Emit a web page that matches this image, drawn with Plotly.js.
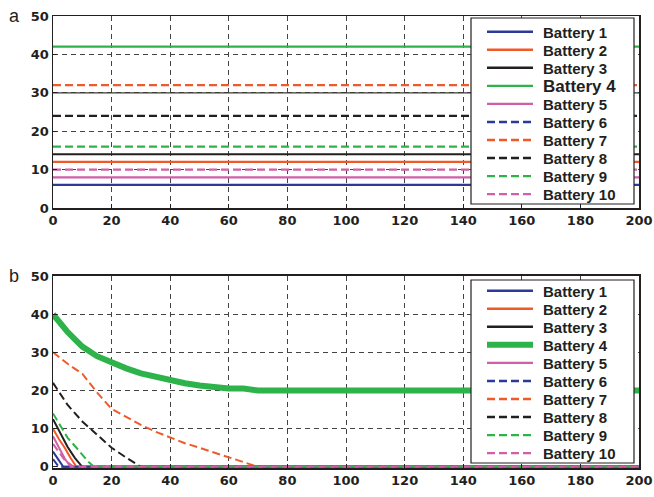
<!DOCTYPE html>
<html>
<head>
<meta charset="utf-8">
<script src="https://cdn.plot.ly/plotly-3.0.1.min.js"></script>
<style>html,body{margin:0;padding:0;background:#fff;}#chart{width:654px;height:497px;}</style>
</head>
<body>
<div id="chart"></div>
<script>
// ---------- data ----------
const batteryNames = ['Battery 1','Battery 2','Battery 3','Battery 4','Battery 5',
                      'Battery 6','Battery 7','Battery 8','Battery 9','Battery 10'];
// Panel a: constant levels over time
const timeA = [0, 200];
const levelsA = [6, 12, 14, 42, 8, 30, 32, 24, 16, 10];

// Panel b: decaying levels
const b1x = [0, 1.5, 3.5, 200];            const b1y = [4, 2.2, 0, 0];
const b2x = [0, 2, 4, 6, 8, 200];           const b2y = [10, 7.3, 5, 2.3, 0, 0];
const b3x = [0, 2.5, 5, 7.5, 10, 200];      const b3y = [12.5, 8.7, 5.2, 2.3, 0, 0];
const b4x = [0, 3, 5, 8, 10, 15, 20, 25, 30, 35, 40, 45, 50, 55, 60, 65, 67, 70, 200];
const b4y = [40, 37, 35.3, 33, 31.5, 29, 27.2, 25.8, 24.5, 23.5, 22.6, 21.9, 21.3, 20.8, 20.5, 20.5, 20.3, 20, 20];
const b5x = [0, 2, 4, 6, 200];              const b5y = [8, 5, 2.2, 0, 0];
const b6x = [0, 1, 2, 200];                 const b6y = [2, 1, 0, 0];
const b7x = [0, 5, 10, 15, 20, 25, 30, 35, 40, 45, 50, 55, 60, 65, 68, 70, 200];
const b7y = [30, 27, 24.4, 19.5, 15.2, 13, 11, 9.2, 7.6, 6.2, 5, 3.7, 2.4, 1.3, 0.4, 0, 0];
const b8x = [0, 5, 10, 15, 20, 25, 30, 200]; const b8y = [22, 16.2, 11.9, 8.4, 5, 2.4, 0, 0];
const b9x = [0, 3, 5, 8, 10, 12, 14, 200];  const b9y = [14, 10, 7.6, 5, 3.3, 1.4, 0, 0];
const b10x = [0, 2, 4, 7, 200];             const b10y = [6, 3.8, 1.8, 0, 0];

const seriesB = [[b1x,b1y],[b2x,b2y],[b3x,b3y],[b4x,b4y],[b5x,b5y],
                 [b6x,b6y],[b7x,b7y],[b8x,b8y],[b9x,b9y],[b10x,b10y]];

const xTicks = [0, 20, 40, 60, 80, 100, 120, 140, 160, 180, 200];
const yTicks = [0, 10, 20, 30, 40, 50];

// ---------- styles ----------
const BLUE = '#2b3a97', ORANGE = '#f05a28', BLACK = '#231f20', GREEN = '#2db34a', MAG = '#d05fa8';
const DASH = '8px,4px';
const lineColors = [BLUE, ORANGE, BLACK, GREEN, MAG, BLUE, ORANGE, BLACK, GREEN, MAG];
const lineDash = ['solid','solid','solid','solid','solid',DASH,DASH,DASH,DASH,DASH];
const widthA = [2.2, 2.2, 2.2, 2.2, 2.2, 1.2, 2.2, 2.2, 2.2, 2.2];
const widthB = [2, 2, 2, 6, 2, 2, 2, 2, 2, 2];

const traces = [];
batteryNames.forEach((nm, i) => {
  traces.push({x: timeA, y: [levelsA[i], levelsA[i]], xaxis: 'x', yaxis: 'y', mode: 'lines',
    name: nm, showlegend: false,
    line: i === 5 ? {color: '#3a3a3a', width: widthA[i]} : {color: lineColors[i], width: widthA[i], dash: lineDash[i]}});
});
batteryNames.forEach((nm, i) => {
  traces.push({x: seriesB[i][0], y: seriesB[i][1], xaxis: 'x2', yaxis: 'y2', mode: 'lines',
    name: nm, showlegend: false,
    line: {color: lineColors[i], width: widthB[i], dash: lineDash[i]}});
});

const FAM = 'DejaVu Sans, Liberation Sans, Arial, sans-serif';
const tickFont = {family: FAM, size: 13, color: '#231f20', weight: 'bold'};
function xax(anchor) {
  return {anchor: anchor, range: [0, 200], tickvals: xTicks, ticktext: xTicks.map(String),
    showgrid: true, gridcolor: '#444', griddash: '5px,4px', gridwidth: 1, zeroline: false,
    showline: true, mirror: true, linecolor: '#231f20', linewidth: 1.5,
    ticks: 'inside', ticklen: 4, tickcolor: '#231f20', tickfont: tickFont, fixedrange: true};
}
function yax(anchor, dom, lo) {
  return {anchor: anchor, domain: dom, range: [lo, 50], tickvals: yTicks, ticktext: yTicks.map(String),
    showgrid: true, gridcolor: '#444', griddash: '5px,4px', gridwidth: 1, zeroline: false,
    showline: true, mirror: true, linecolor: '#231f20', linewidth: 1.5,
    ticks: 'inside', ticklen: 4, tickcolor: '#231f20', tickfont: tickFont, fixedrange: true};
}

// ---------- legend boxes (drawn as shapes + text) ----------
const W = 654, H = 497, ML = 53, MR = 15, MT = 16, MB = 29;
const PW = W - ML - MR, PH = H - MT - MB;
const px2x = p => (p - ML) / PW;
const py2y = p => (H - MB - p) / PH;
const shapes = [], annotations = [];
function buildLegend(top, bottom, firstRow, rowGap, widths, bigIndex) {
  shapes.push({type: 'rect', xref: 'paper', yref: 'paper',
    x0: px2x(471), x1: px2x(634), y0: py2y(bottom), y1: py2y(top),
    fillcolor: '#fff', line: {color: '#231f20', width: 1.2}});
  batteryNames.forEach((nm, i) => {
    const cy = firstRow + i * rowGap;
    shapes.push({type: 'line', xref: 'paper', yref: 'paper',
      x0: px2x(487), x1: px2x(533), y0: py2y(cy), y1: py2y(cy),
      line: {color: lineColors[i], width: widths[i] === 6 ? 6 : 2.4, dash: lineDash[i]}});
    annotations.push({text: nm, xref: 'paper', yref: 'paper', x: px2x(541), y: py2y(cy + 0.5),
      xanchor: 'left', yanchor: 'middle', showarrow: false,
      font: {family: 'Liberation Sans, Arial, sans-serif', size: i === bigIndex ? 17 : 15,
             color: '#231f20', weight: 'bold'}});
  });
}
buildLegend(18, 204, 31.7, 18.05, [2,2,2,2,2,2,2,2,2,2], 3);
buildLegend(280, 463, 290.7, 18.05, widthB, -1);

annotations.push(
  {text: 'a', xref: 'paper', yref: 'paper', x: px2x(14), y: py2y(16), xanchor: 'center', yanchor: 'middle',
   showarrow: false, font: {family: 'Liberation Sans, Arial, sans-serif', size: 18, color: '#231f20'}},
  {text: 'b', xref: 'paper', yref: 'paper', x: px2x(14), y: py2y(276), xanchor: 'center', yanchor: 'middle',
   showarrow: false, font: {family: 'Liberation Sans, Arial, sans-serif', size: 18, color: '#231f20'}}
);

const layout = {
  width: W, height: H,
  margin: {l: ML, r: MR, t: MT, b: MB},
  paper_bgcolor: '#fff', plot_bgcolor: '#fff',
  xaxis: xax('y'), yaxis: yax('x', [0.5752, 1], 0),
  xaxis2: xax('y2'), yaxis2: yax('x2', [0, 0.4248], -0.3),
  shapes: shapes, annotations: annotations,
  showlegend: false
};
Plotly.newPlot('chart', traces, layout, {displayModeBar: false, staticPlot: true});
</script>
</body>
</html>
